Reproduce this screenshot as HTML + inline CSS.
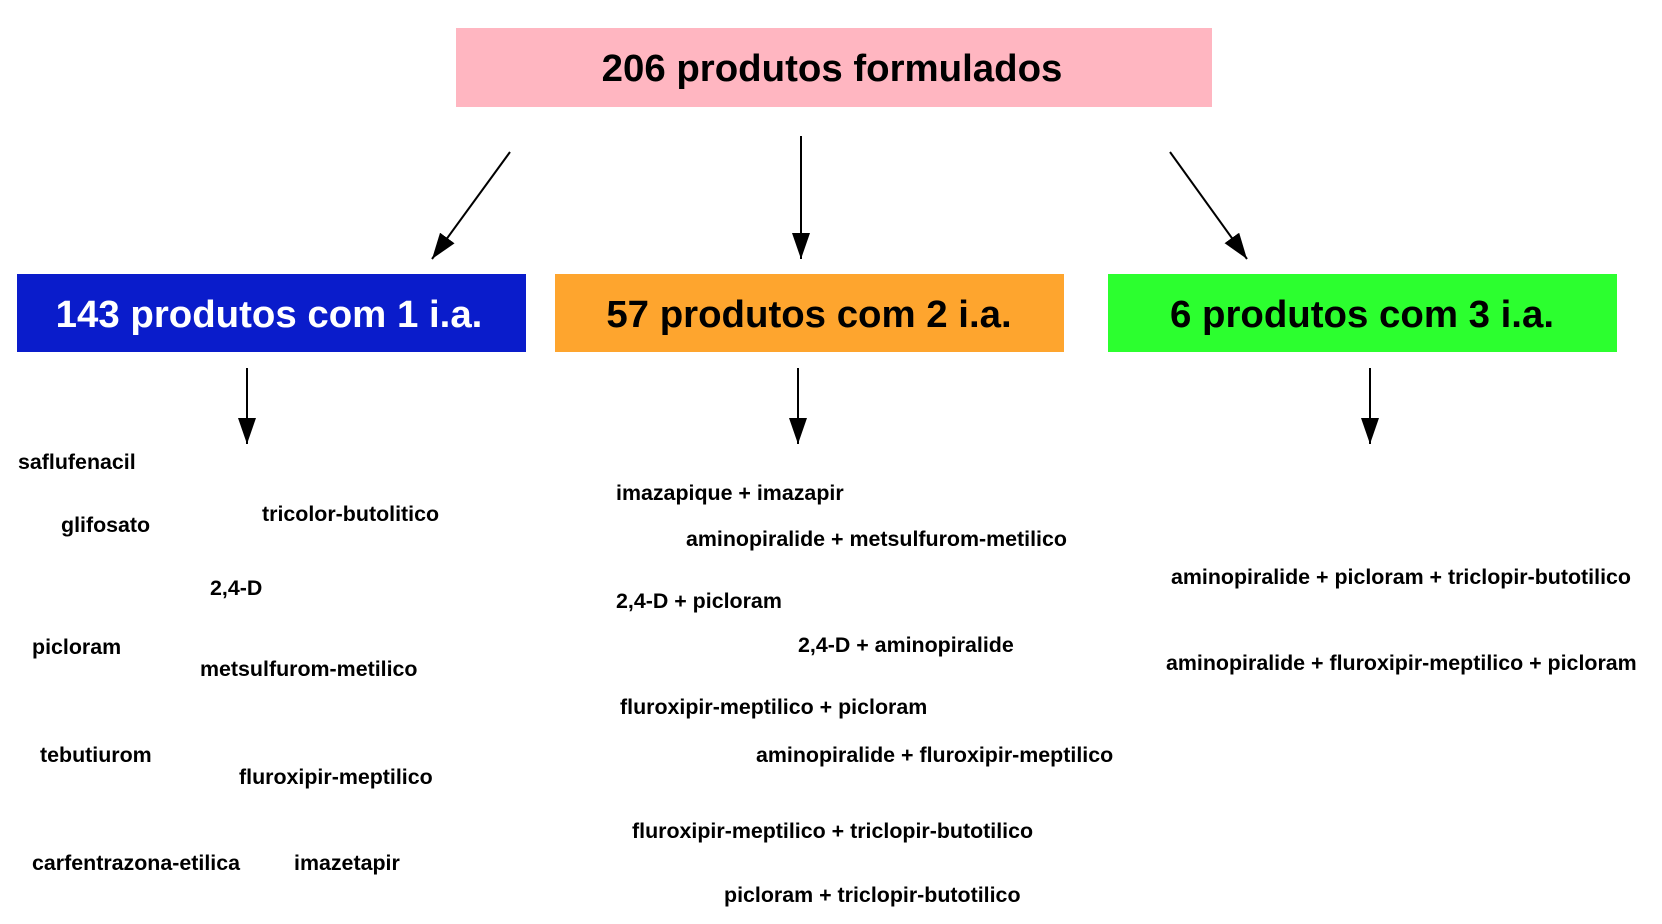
<!DOCTYPE html>
<html><head><meta charset="utf-8"><style>
html,body{margin:0;padding:0;background:#fff;width:1662px;height:924px;overflow:hidden}
svg text{font-family:"Liberation Sans",Arial,sans-serif;font-weight:bold}
</style></head><body>
<svg width="1662" height="924" viewBox="0 0 1662 924" xmlns="http://www.w3.org/2000/svg">
<defs>
<marker id="b" markerWidth="26" markerHeight="18" refX="26" refY="9" orient="auto" markerUnits="userSpaceOnUse"><path d="M0,0 L26,9 L0,18 Z" fill="#000"/></marker></defs>
<rect x="456" y="28" width="756" height="79" fill="#ffb6c1"/>
<text x="832" y="81" font-size="38.4" text-anchor="middle" fill="#000">206 produtos formulados</text>
<rect x="17" y="274" width="509" height="78" fill="#0a1ccb"/>
<text x="269" y="327" font-size="38.4" text-anchor="middle" fill="#fff">143 produtos com 1 i.a.</text>
<rect x="555" y="274" width="509" height="78" fill="#fea52e"/>
<text x="809" y="327" font-size="38.4" text-anchor="middle" fill="#000">57 produtos com 2 i.a.</text>
<rect x="1108" y="274" width="509" height="78" fill="#2cff2f"/>
<text x="1362" y="327" font-size="38.4" text-anchor="middle" fill="#000">6 produtos com 3 i.a.</text>
<g stroke="#000" stroke-width="2" fill="none">
<line x1="510" y1="152" x2="432" y2="259" marker-end="url(#b)"/>
<line x1="801" y1="136" x2="801" y2="259" marker-end="url(#b)"/>
<line x1="1170" y1="152" x2="1247" y2="259" marker-end="url(#b)"/>
<line x1="247" y1="368" x2="247" y2="444" marker-end="url(#b)"/>
<line x1="798" y1="368" x2="798" y2="444" marker-end="url(#b)"/>
<line x1="1370" y1="368" x2="1370" y2="444" marker-end="url(#b)"/>
</g>
<g font-size="21.4" fill="#000">
<text x="18" y="469">saflufenacil</text>
<text x="61" y="532">glifosato</text>
<text x="262" y="521">tricolor-butolitico</text>
<text x="210" y="595">2,4-D</text>
<text x="32" y="654">picloram</text>
<text x="200" y="676">metsulfurom-metilico</text>
<text x="40" y="762">tebutiurom</text>
<text x="239" y="784">fluroxipir-meptilico</text>
<text x="32" y="870">carfentrazona-etilica</text>
<text x="294" y="870">imazetapir</text>
<text x="616" y="500">imazapique + imazapir</text>
<text x="686" y="546">aminopiralide + metsulfurom-metilico</text>
<text x="616" y="608">2,4-D + picloram</text>
<text x="798" y="652">2,4-D + aminopiralide</text>
<text x="620" y="714">fluroxipir-meptilico + picloram</text>
<text x="756" y="762">aminopiralide + fluroxipir-meptilico</text>
<text x="632" y="838">fluroxipir-meptilico + triclopir-butotilico</text>
<text x="724" y="902">picloram + triclopir-butotilico</text>
<text x="1171" y="584">aminopiralide + picloram + triclopir-butotilico</text>
<text x="1166" y="670">aminopiralide + fluroxipir-meptilico + picloram</text>
</g>
</svg>
</body></html>
